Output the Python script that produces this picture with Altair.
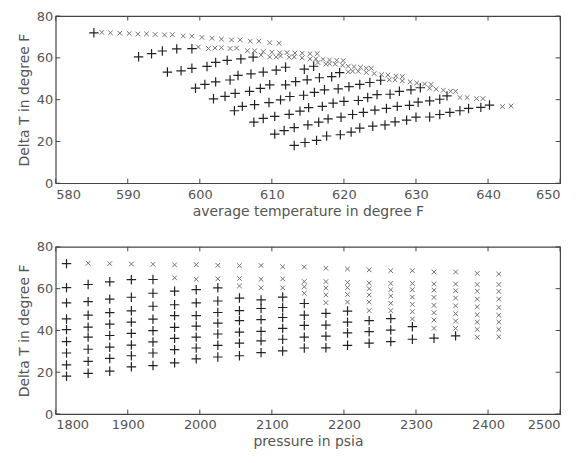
import altair as alt
import pandas as pd

# Operating pressures (psia), one column of cases per pressure
pressure = [1815, 1845, 1875, 1905, 1935, 1965, 1995, 2025, 2055, 2085, 2115,
            2145, 2175, 2205, 2235, 2265, 2295, 2325, 2355, 2385, 2415]

# Number of cases (counted from the top row) flagged with "x" at each pressure
n_flagged = [0, 1, 1, 1, 1, 2, 2, 2, 3, 3, 3, 4, 5, 5, 6, 6, 7, 8, 8, 9, 9]

# Delta T (degree F) for each case row across the pressures
dt_0 = [72.0, 72.2, 72.0, 71.8, 71.7, 71.4, 71.5, 71.2, 71.0, 71.1, 70.5, 70.4, 69.8, 69.4, 69.0, 68.6, 68.6, 68.0, 68.0, 67.3, 67.0]
dt_1 = [60.5, 62.0, 63.3, 64.3, 64.4, 65.2, 64.5, 64.7, 64.9, 64.5, 64.7, 63.4, 63.4, 63.0, 62.7, 62.5, 62.5, 62.3, 62.2, 62.0, 62.0]
dt_2 = [53.2, 53.8, 55.0, 55.9, 57.8, 58.8, 59.5, 60.4, 61.3, 60.4, 60.4, 60.9, 60.3, 60.5, 60.0, 59.5, 59.5, 59.3, 59.0, 58.8, 58.7]
dt_3 = [45.5, 47.3, 48.5, 49.4, 51.6, 52.3, 53.2, 54.1, 55.5, 54.6, 56.0, 57.8, 57.0, 57.2, 57.0, 56.5, 56.0, 55.8, 55.5, 55.0, 55.0]
dt_4 = [40.4, 41.6, 43.0, 44.0, 45.4, 47.1, 47.1, 48.6, 49.5, 50.5, 51.0, 52.9, 53.3, 53.6, 53.6, 53.0, 52.5, 52.0, 51.8, 51.3, 51.0]
dt_5 = [34.7, 36.8, 37.6, 38.6, 39.9, 41.5, 42.1, 43.5, 44.7, 45.2, 46.2, 47.3, 48.2, 49.3, 49.5, 49.5, 49.0, 48.5, 48.0, 47.5, 47.3]
dt_6 = [29.2, 31.0, 32.0, 33.0, 34.5, 36.2, 36.8, 38.3, 39.2, 39.6, 41.0, 42.4, 42.6, 44.0, 44.7, 45.7, 45.5, 45.0, 44.5, 44.0, 44.0]
dt_7 = [23.5, 25.2, 26.6, 27.9, 29.2, 30.8, 31.6, 32.9, 33.9, 35.0, 35.8, 36.8, 37.3, 38.8, 39.4, 40.2, 41.8, 41.0, 41.0, 40.5, 40.5]
dt_8 = [18.1, 19.5, 20.5, 22.6, 23.2, 24.5, 26.4, 27.3, 27.9, 29.4, 30.2, 31.6, 31.7, 32.9, 33.9, 34.7, 35.8, 36.3, 37.4, 36.7, 37.0]

# Average temperature (degree F) for each case row across the pressures
tavg_0 = [585.3, 586.4, 587.6, 588.9, 590.2, 591.4, 592.6, 593.8, 595.1, 596.2, 597.7, 598.9, 600.3, 601.7, 603.0, 604.4, 605.6, 607.0, 608.2, 609.7, 611.0]
tavg_1 = [591.5, 593.3, 594.8, 596.8, 598.9, 599.8, 601.2, 602.1, 603.0, 604.2, 605.1, 606.6, 607.6, 608.8, 610.0, 611.1, 612.1, 613.2, 614.2, 615.3, 616.3]
tavg_2 = [595.5, 597.4, 598.9, 601.0, 602.2, 603.8, 605.7, 607.4, 608.5, 609.7, 610.6, 611.2, 612.4, 613.1, 614.2, 615.3, 616.1, 617.1, 618.0, 619.0, 619.9]
tavg_3 = [599.4, 600.7, 602.2, 604.2, 605.3, 607.1, 608.8, 610.6, 611.9, 614.5, 615.8, 616.4, 617.5, 618.0, 618.8, 619.8, 620.6, 621.4, 622.3, 623.1, 623.8]
tavg_4 = [601.9, 603.5, 604.9, 606.9, 608.4, 609.7, 611.9, 613.3, 614.9, 616.6, 618.3, 619.4, 620.6, 621.2, 622.0, 623.1, 624.2, 625.2, 626.1, 627.2, 628.1]
tavg_5 = [604.8, 605.9, 607.6, 609.6, 611.2, 612.5, 614.4, 615.9, 617.3, 619.2, 620.7, 622.2, 623.6, 625.1, 626.3, 627.1, 628.1, 629.2, 630.1, 631.2, 632.1]
tavg_6 = [607.5, 608.8, 610.4, 612.4, 613.9, 615.1, 617.0, 618.5, 620.0, 622.0, 623.3, 624.6, 626.4, 627.7, 629.3, 630.6, 631.9, 632.8, 633.8, 634.8, 635.5]
tavg_7 = [610.4, 611.7, 613.1, 615.0, 616.5, 617.8, 619.6, 621.2, 622.7, 624.3, 625.9, 627.4, 629.1, 630.3, 631.9, 633.3, 634.3, 636.1, 637.1, 638.4, 639.3]
tavg_8 = [613.1, 614.6, 616.2, 617.6, 619.5, 621.0, 622.2, 624.0, 625.7, 627.1, 628.7, 630.0, 631.9, 633.3, 634.7, 636.1, 637.3, 639.0, 640.2, 642.0, 643.2]

temp_ticks = [580, 590, 600, 610, 620, 630, 640, 650]
pres_ticks = [1800, 1900, 2000, 2100, 2200, 2300, 2400, 2500]
dt_ticks = [0, 20, 40, 60, 80]

dt_rows = [dt_0, dt_1, dt_2, dt_3, dt_4, dt_5, dt_6, dt_7, dt_8]
tavg_rows = [tavg_0, tavg_1, tavg_2, tavg_3, tavg_4, tavg_5, tavg_6, tavg_7, tavg_8]

records = []
for j, (dts, tas) in enumerate(zip(dt_rows, tavg_rows)):
    for c, p in enumerate(pressure):
        records.append({
            "case": j,
            "pressure": p,
            "dT": dts[c],
            "tavg": tas[c],
            "flag": "x" if j < n_flagged[c] else "+",
        })
df = pd.DataFrame(records)

PLUS = "M-1,0L1,0M0,-1L0,1"
CROSS = "M-1,-1L1,1M-1,1L1,-1"
TEXT = "#555555"
FRAME = "#444444"
FONT = "DejaVu Sans"
W, H = 507, 168
TICK_PX = 4.5  # inward tick length in pixels


def panel(xfield, xdomain, xticks, xtitle):
    xs = alt.Scale(domain=xdomain, nice=False, zero=False)
    ys = alt.Scale(domain=[0, 80], nice=False)
    xaxis = alt.Axis(values=xticks, title=xtitle, ticks=False, domain=False,
                     grid=False, labelPadding=5, titlePadding=3, format="d")
    yaxis = alt.Axis(values=dt_ticks, title="Delta T in degree F", ticks=False,
                     domain=False, grid=False, labelPadding=3, titlePadding=5,
                     format="d")

    base = alt.Chart(df)
    plus = base.transform_filter(alt.datum.flag == "+").mark_point(
        shape=PLUS, size=90, filled=False, strokeWidth=1.2, color="#222222", opacity=1
    ).encode(
        x=alt.X(f"{xfield}:Q", scale=xs, axis=xaxis),
        y=alt.Y("dT:Q", scale=ys, axis=yaxis),
    )
    cross = base.transform_filter(alt.datum.flag == "x").mark_point(
        shape=CROSS, size=22, filled=False, strokeWidth=1, color="#707070", opacity=1
    ).encode(
        x=alt.X(f"{xfield}:Q", scale=xs),
        y=alt.Y("dT:Q", scale=ys),
    )

    # inward ticks on all four sides, lengths expressed in data units
    dx = (xdomain[1] - xdomain[0]) * TICK_PX / W
    dy = 80 * TICK_PX / H
    xt = pd.DataFrame({"v": xticks})
    yt = pd.DataFrame({"v": dt_ticks})
    rule = dict(color=FRAME, strokeWidth=1, opacity=1)
    xt_bottom = alt.Chart(xt).mark_rule(**rule).encode(
        x=alt.X("v:Q", scale=xs), y=alt.datum(0), y2=alt.datum(dy))
    xt_top = alt.Chart(xt).mark_rule(**rule).encode(
        x=alt.X("v:Q", scale=xs), y=alt.datum(80), y2=alt.datum(80 - dy))
    yt_left = alt.Chart(yt).mark_rule(**rule).encode(
        y=alt.Y("v:Q", scale=ys), x=alt.datum(xdomain[0]), x2=alt.datum(xdomain[0] + dx))
    yt_right = alt.Chart(yt).mark_rule(**rule).encode(
        y=alt.Y("v:Q", scale=ys), x=alt.datum(xdomain[1]), x2=alt.datum(xdomain[1] - dx))

    return alt.layer(cross, plus, xt_bottom, xt_top, yt_left, yt_right).properties(
        width=W, height=H)


top = panel("tavg", [580, 650], temp_ticks, "average temperature in degree F")
bottom = panel("pressure", [1800, 2500], pres_ticks, "pressure in psia")

chart = alt.vconcat(top, bottom, spacing=21).properties(
    padding={"left": 16, "top": 8, "right": 16, "bottom": 2},
    background="white",
).configure_view(
    stroke=FRAME, strokeWidth=1.2
).configure_axis(
    labelFont=FONT, titleFont=FONT, labelFontSize=13, titleFontSize=14,
    labelColor=TEXT, titleColor=TEXT, titleFontWeight="normal",
)

chart.save("out.html", embed_options={"renderer": "svg", "actions": False})
